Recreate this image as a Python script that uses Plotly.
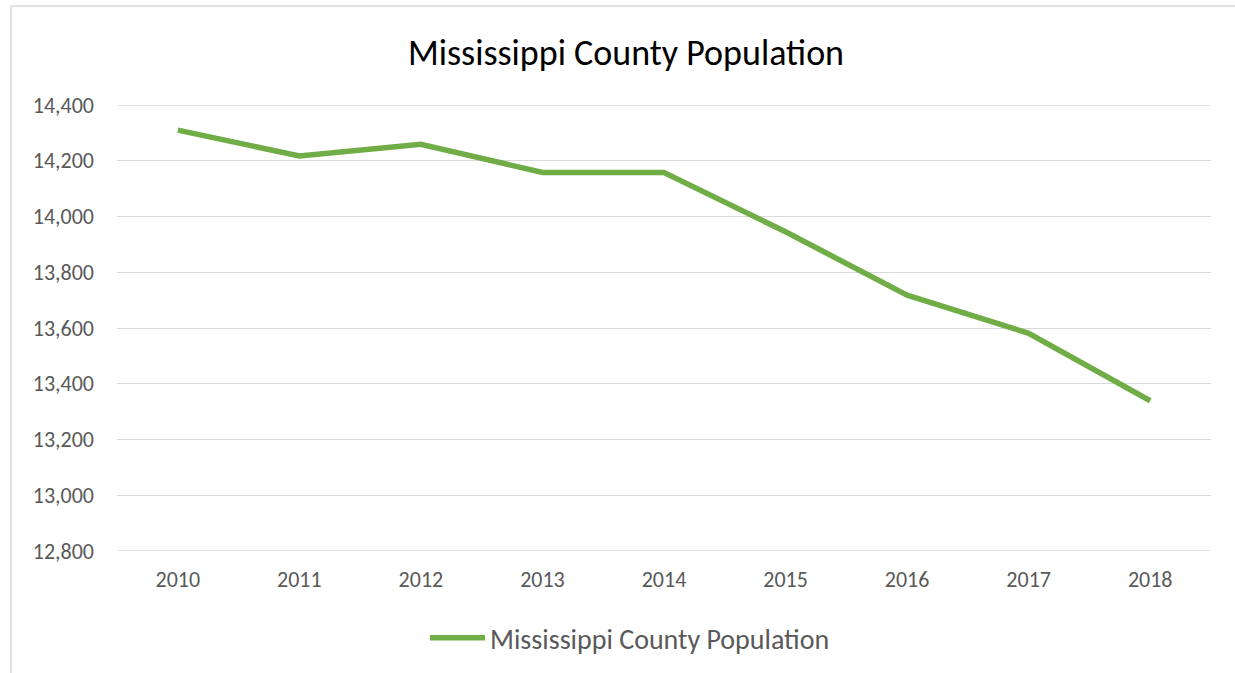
import plotly.graph_objects as go

years = ["2010", "2011", "2012", "2013", "2014", "2015", "2016", "2017", "2018"]
population = [14310, 14217, 14259, 14158, 14158, 13945, 13718, 13581, 13339]
series_name = "Mississippi County Population"
title_text = "Mississippi County Population"
y_ticks = [12800, 13000, 13200, 13400, 13600, 13800, 14000, 14200, 14400]

W, H = 1235, 673
L, R, T, B = 117, 24, 105, 122
pw = W - L - R
ph = H - T - B

def px_x(x):
    return (x - L) / pw

def px_y(y):
    return (H - B - y) / ph

FONT = "Carlito, Calibri, Lato, 'Open Sans', sans-serif"
GRID = "#D9D9D9"

fig = go.Figure()
fig.add_trace(go.Scatter(
    x=years, y=population, mode="lines", name=series_name,
    line=dict(color="#70AD47", width=5.5, shape="linear"),
))

shapes = [
    dict(type="line", xref="paper", yref="paper",
         x0=px_x(11), x1=px_x(11), y0=px_y(6), y1=px_y(H + 5),
         line=dict(color=GRID, width=1.5)),
    dict(type="line", xref="paper", yref="paper",
         x0=px_x(11), x1=px_x(W + 5), y0=px_y(6), y1=px_y(6),
         line=dict(color=GRID, width=1.5)),
]
for v in (y_ticks[0], y_ticks[-1]):
    shapes.append(dict(type="line", xref="paper", yref="y", x0=0, x1=1, y0=v, y1=v,
                       line=dict(color=GRID, width=1.3), layer="below"))

fig.update_layout(
    width=W, height=H,
    margin=dict(l=L, r=R, t=T, b=B, autoexpand=False),
    paper_bgcolor="white", plot_bgcolor="white",
    font=dict(family=FONT, color="#595959", size=22),
    title=dict(text=title_text, x=626 / W, xref="container", xanchor="center",
               y=1 - 52 / H, yref="container", yanchor="middle",
               font=dict(size=36, color="#000000", family=FONT)),
    showlegend=True,
    legend=dict(orientation="h", x=(430 - 5) / W, xref="container", xanchor="left",
                y=1 - 638 / H, yref="container", yanchor="middle",
                font=dict(size=28, color="#595959"), itemwidth=55,
                bgcolor="rgba(0,0,0,0)"),
    xaxis=dict(type="category", range=[-0.5, 8.5], showgrid=False, showline=False,
               ticks="", ticklabelstandoff=13, zeroline=False, fixedrange=True),
    yaxis=dict(range=[12800, 14400], tickvals=y_ticks, tickformat=",d",
               showgrid=True, gridcolor=GRID, gridwidth=1.3,
               showline=False, ticks="", ticklabelstandoff=22, zeroline=False),
    shapes=shapes,
)

fig.write_html("out.html", config={"displayModeBar": False},
               post_script="document.body.style.margin='0';document.body.style.overflow='hidden';")
